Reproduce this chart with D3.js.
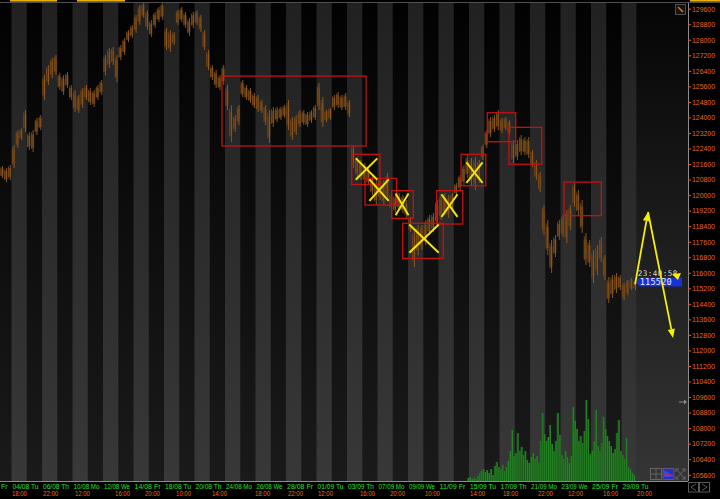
<!DOCTYPE html>
<html><head><meta charset="utf-8">
<script src="https://cdn.jsdelivr.net/npm/d3@7"></script>
<style>html,body{margin:0;padding:0;background:#000;overflow:hidden}svg{display:block}</style>
</head><body>
<script>
// ---- DATA ----
// trading-day labels (every 2nd trading day, day index 0 = 31/07 Fr, shown cut at the left edge)
const dayLabels = ["Fr","04/08 Tu","06/08 Th","10/08 Mo","12/08 We","14/08 Fr","18/08 Tu","20/08 Th","24/08 Mo","26/08 We","28/08 Fr","01/09 Tu","03/09 Th","07/09 Mo","09/09 We","11/09 Fr","15/09 Tu","17/09 Th","21/09 Mo","23/09 We","25/09 Fr","29/09 Tu"];
const timeLabels = ["18:00","22:00","12:00","16:00","20:00","10:00","14:00","18:00","22:00","12:00","16:00","20:00","10:00","14:00","18:00","22:00","12:00","16:00","20:00"];
const timeLabelDays = [2.03,4.07,6.16,8.79,10.75,12.79,15.15,17.97,20.13,22.10,24.85,26.82,29.11,32.07,34.23,36.52,38.49,40.79,43.02];
const priceTicks = d3.range(105600, 129601, 800);
const barsPerDay = 4, firstBar = 4;
const highs = [121550,121500,121390,121550,122580,123350,123450,124380,123250,123350,123970,124120,126180,126700,127060,127220,126290,126180,126340,125670,125410,125160,125520,125670,125520,125410,125670,125930,127220,127580,127630,127220,127730,128090,128500,128760,129280,129790,129890,129530,129020,129430,129690,129940,128610,128500,128400,129530,129690,129430,129120,129430,129530,129280,128500,127470,126700,126440,126180,126700,125670,124640,124120,124640,125930,125670,125520,125260,125160,124900,124640,124380,124540,124540,124540,124640,124900,124020,124120,124380,124380,124280,124380,124640,125770,125050,124380,124490,125160,125310,125160,125260,124900,122580,121960,121810,121650,121390,121030,120780,120880,120780,121140,120110,120000,120110,120000,119750,118870,118200,118460,118460,118720,118970,119080,119750,120000,120110,120000,120110,120620,121030,121550,122060,121910,121960,121810,122580,123350,124020,124120,124380,123970,124020,123870,122840,122840,123090,122990,122990,122320,121810,121190,119490,118720,117690,117940,118720,118970,119230,119490,120620,120260,119750,118050,117690,117170,117430,117840,116910,115780,115880,115990,115880,115470,115630,115730,115630];
const lows = [121030,120880,120670,120780,121390,122420,122840,123250,122320,122220,123090,123350,124900,125670,126030,126180,125410,125160,125520,124900,124280,124230,124490,124900,124640,124540,124900,125160,126180,126550,126700,125820,126960,127220,127880,128090,128350,128760,129120,128500,128140,128610,128910,129020,127470,127370,127730,128760,128910,128610,128190,128610,128760,128400,127470,126440,125930,125520,125410,125670,124380,122730,123250,123610,125050,124900,124740,124490,124280,124230,123610,122680,123510,123760,123870,123970,123350,122840,123090,123510,123610,123510,123710,123870,124380,123510,123760,123870,124380,124490,124380,124380,124020,121390,120930,120780,120620,120520,120000,119490,119750,119490,119750,119230,119080,119230,119080,118820,118100,116300,116910,117170,117430,117940,118100,118460,118720,118970,118820,119130,120000,120260,120520,120880,120520,120260,120620,121810,122420,122990,123250,123350,123200,123350,123090,121650,121810,122060,122060,121910,121450,120780,120160,117940,116910,115990,116810,117690,117840,117530,118200,119390,118970,118050,116400,116300,115470,115880,116550,115630,114440,114700,114960,115110,114600,114850,115110,115110];
const lastPrice = 115520;
const lastTime = "23:40:58";
const volPerDay = 8, firstVolBar = 255;
const volumes = [30,40,20,30,20,50,80,100,120,90,110,80,120,60,150,190,140,120,160,100,140,200,300,510,250,280,480,300,340,260,300,210,180,240,280,220,250,180,400,680,470,400,440,560,370,300,400,680,460,260,220,300,240,180,250,740,600,520,400,450,380,500,810,620,270,300,400,710,350,300,380,640,520,450,400,350,280,320,480,610,300,260,220,430,140,120,80,60];
// annotation boxes: [day0, day1, priceTop, priceBottom]
const boxes = [[15.80,25.25,126130,122530],[24.31,26.16,122100,120550],[25.18,27.26,120860,119490],[26.93,28.35,120230,118800],[27.65,30.31,118550,116740],[29.88,31.59,120230,118510],[31.48,33.10,122100,120480],[33.20,35.06,124240,122750],[34.62,36.77,123490,121590],[38.23,40.68,120670,118940]];
// X marks: [centerDay, centerPrice, halfDays, halfPrice]
const crosses = [[25.28,121340,0.66,515],[26.10,120260,0.59,515],[27.61,119520,0.39,515],[29.05,117760,0.92,695],[30.72,119460,0.49,540],[32.36,121160,0.49,490]];
// yellow arrows: [[day,price],[day,price]]
const arrows = [[[42.89,115400],[43.74,119130]],[[43.74,119130],[45.38,112640]]];
const smallTri = [[45.31,115930],[45.90,115990],[45.70,115630]];

// ---- LAYOUT ----
const W = 720, H = 499, plotR = 688, plotB = 481, plotT = 3;
const x = d3.scaleLinear().domain([0, 46]).range([-19, -19 + 15.25 * 46]);
const y = d3.scaleLinear().domain([105600, 129600]).range([474.7, 8.7]);
const yv = d3.scaleLinear().domain([0, 1000]).range([plotB, plotB - 100]);

const svg = d3.select("body").append("svg").attr("width", W).attr("height", H)
  .style("font-family", "'Liberation Sans', Arial, sans-serif");
const defs = svg.append("defs");
function grad(id, c0, c1) {
  const g = defs.append("linearGradient").attr("id", id)
    .attr("gradientUnits", "userSpaceOnUse").attr("y1", plotT).attr("y2", plotB).attr("x1", 0).attr("x2", 0);
  g.append("stop").attr("offset", 0).attr("stop-color", c0);
  g.append("stop").attr("offset", 1).attr("stop-color", c1);
}
grad("gBlack", "#020202", "#1a1a1a");
grad("gGray", "#212121", "#383838");
grad("gBeyond", "#050505", "#353535");
grad("gVol", "#2a8c2a", "#175c17");
defs.append("clipPath").attr("id", "clip").append("rect").attr("x", 0).attr("y", plotT).attr("width", plotR).attr("height", plotB - plotT);

svg.append("rect").attr("width", W).attr("height", H).attr("fill", "#000");
const plot = svg.append("g").attr("clip-path", "url(#clip)");
plot.append("rect").attr("x", 0).attr("y", plotT).attr("width", plotR).attr("height", plotB - plotT).attr("fill", "url(#gBlack)");
const lastDay = 43;
// alternating day bands
plot.append("g").selectAll("rect").data(d3.range(0, lastDay, 2)).join("rect")
  .attr("x", d => x(d)).attr("width", x(1) - x(0)).attr("y", plotT).attr("height", plotB - plotT).attr("fill", "url(#gGray)");
plot.append("rect").attr("x", x(lastDay) - 0.25).attr("y", plotT).attr("width", plotR - x(lastDay) + 1).attr("height", plotB - plotT).attr("fill", "url(#gBeyond)");

// volume
const vw = x(1 / volPerDay) - x(0);
const vg = plot.append("g");
volumes.forEach((v, i) => {
  const d = (firstVolBar + i) / volPerDay + 0.5 / volPerDay;
  const cx = x(d);
  vg.append("rect").attr("x", cx - vw / 2).attr("width", vw).attr("y", yv(v)).attr("height", yv(0) - yv(v)).attr("fill", "#1a621a");
  vg.append("rect").attr("x", cx + vw / 2 - 0.9).attr("width", 0.9).attr("y", yv(v)).attr("height", yv(0) - yv(v)).attr("fill", "#2a8a2a");
});

// price bars
const bw = x(1 / barsPerDay) - x(0);
const pg = plot.append("g");
highs.forEach((h, i) => {
  const d = (firstBar + i) / barsPerDay + 0.5 / barsPerDay;
  const cx = x(d), yt = y(h), yb = y(lows[i]), hh = yb - yt;
  pg.append("rect").attr("x", cx - bw / 2 + 0.2).attr("width", bw - 0.4).attr("y", yt + hh * 0.2).attr("height", hh * 0.6).attr("fill", "#4a2f14");
  pg.append("rect").attr("x", cx - 1.4).attr("width", 0.8).attr("y", yt + hh * 0.1).attr("height", hh * 0.75).attr("fill", "#7a4c1c");
  pg.append("rect").attr("x", cx + 0.2).attr("width", 0.9).attr("y", yt).attr("height", hh).attr("fill", "#955d20");
});

// boxes
plot.append("g").selectAll("rect").data(boxes).join("rect")
  .attr("x", b => x(b[0])).attr("y", b => y(b[2])).attr("width", b => x(b[1]) - x(b[0])).attr("height", b => y(b[3]) - y(b[2]))
  .attr("fill", "none").attr("stroke", "#c41212").attr("stroke-width", 1.3);

// crosses
const cg = plot.append("g").attr("stroke", "#f2e20c").attr("stroke-width", 2).attr("stroke-linecap", "square");
crosses.forEach(c => {
  cg.append("line").attr("x1", x(c[0] - c[2])).attr("y1", y(c[1] + c[3])).attr("x2", x(c[0] + c[2])).attr("y2", y(c[1] - c[3]));
  cg.append("line").attr("x1", x(c[0] - c[2])).attr("y1", y(c[1] - c[3])).attr("x2", x(c[0] + c[2])).attr("y2", y(c[1] + c[3]));
});

// current time + price label
plot.append("text").attr("x", x(42.93) + 2).attr("y", y(lastPrice) - 6).attr("fill", "#d8d8d8")
  .style("font-family", "'DejaVu Sans Mono', monospace").style("font-size", "7.6px").attr("letter-spacing", "0.45px").text(lastTime);
const ly = y(lastPrice);
const lx0 = x(42.93);
plot.append("path").attr("d", `M${lx0},${ly} L${lx0 + 4},${ly - 4.5} L${plotR - 6},${ly - 4.5} L${plotR - 6},${ly + 4.5} L${lx0 + 4},${ly + 4.5} Z`).attr("fill", "#1830d8");
plot.append("text").attr("x", lx0 + 4).attr("y", ly + 3.3).attr("fill", "#e8ecff")
  .style("font-family", "'DejaVu Sans Mono', monospace").style("font-size", "8.6px").attr("letter-spacing", "0.2px").text(String(lastPrice));

// arrows
const ag = plot.append("g");
arrows.forEach(a => {
  const x1 = x(a[0][0]), y1 = y(a[0][1]), x2 = x(a[1][0]), y2 = y(a[1][1]);
  const ang = Math.atan2(y2 - y1, x2 - x1), L = 9, Wd = 3.6;
  const bx = x2 - L * Math.cos(ang), by = y2 - L * Math.sin(ang);
  ag.append("line").attr("x1", x1).attr("y1", y1).attr("x2", bx).attr("y2", by).attr("stroke", "#f6f000").attr("stroke-width", 1.8);
  ag.append("path").attr("d", `M${x2},${y2} L${bx - Wd * Math.sin(ang)},${by + Wd * Math.cos(ang)} L${bx + Wd * Math.sin(ang)},${by - Wd * Math.cos(ang)} Z`).attr("fill", "#f6f000");
});
ag.append("path").attr("d", "M" + smallTri.map(p => x(p[0]) + "," + y(p[1])).join(" L") + " Z").attr("fill", "#f6f000");

// small gray arrow marker
plot.append("line").attr("x1", 679).attr("x2", 686).attr("y1", 402).attr("y2", 402).attr("stroke", "#8a8a8a").attr("stroke-width", 1);
plot.append("path").attr("d", "M687,402 L684,399.5 L684,404.5 Z").attr("fill", "#8a8a8a");

// icons bottom right
const ic = svg.append("g").attr("fill", "none").attr("stroke", "#707070").attr("stroke-width", 0.8);
ic.append("rect").attr("x", 650.5).attr("y", 468.5).attr("width", 11).attr("height", 11);
ic.append("line").attr("x1", 656).attr("x2", 656).attr("y1", 468.5).attr("y2", 479.5);
ic.append("line").attr("x1", 650.5).attr("x2", 661.5).attr("y1", 474).attr("y2", 474);
svg.append("rect").attr("x", 663).attr("y", 468.5).attr("width", 11).attr("height", 11).attr("fill", "#2a2fb8").attr("stroke", "#7070a0").attr("stroke-width", 0.6);
svg.append("path").attr("d", "M663.5,470 L669,473 L673.5,477 L663.5,477 Z").attr("fill", "#3a48e8");
svg.append("line").attr("x1", 663.5).attr("x2", 673.5).attr("y1", 475).attr("y2", 475).attr("stroke", "#e02020").attr("stroke-width", 1);
ic.append("path").attr("d", "M676,469 L685,479 M685,469 L676,479 M676,469 L679,469 M676,469 L676,472 M685,469 L682,469 M685,469 L685,472 M676,479 L679,479 M676,479 L676,476 M685,479 L682,479 M685,479 L685,476");
// scroll buttons
ic.append("rect").attr("x", 688.5).attr("y", 482.5).attr("width", 10).attr("height", 9.5);
ic.append("rect").attr("x", 699.5).attr("y", 482.5).attr("width", 10).attr("height", 9.5);
ic.append("path").attr("d", "M696,484 L691,487.2 L696,490.5 M702,484 L707,487.2 L702,490.5");
// pencil icon top right
svg.append("rect").attr("x", 675.5).attr("y", 4.5).attr("width", 10).attr("height", 10).attr("fill", "#141414").attr("stroke", "#606060").attr("stroke-width", 0.8);
svg.append("line").attr("x1", 678).attr("y1", 7).attr("x2", 683).attr("y2", 12).attr("stroke", "#d07830").attr("stroke-width", 1.6);

// top strip
svg.append("line").attr("x1", 0).attr("x2", W).attr("y1", 2.5).attr("y2", 2.5).attr("stroke", "#505050").attr("stroke-width", 1);
[[10, 57], [77, 125], [690, 720]].forEach(s => svg.append("rect").attr("x", s[0]).attr("y", 0).attr("width", s[1] - s[0]).attr("height", 1.6).attr("fill", "#e8b000"));

// right axis
const ax = svg.append("g").attr("transform", `translate(${plotR},0)`)
  .call(d3.axisRight(y).tickValues(priceTicks).tickSize(3).tickPadding(1).tickFormat(d3.format("d")));
ax.select(".domain").attr("stroke", "#8c8c8c").attr("d", `M0.5,${plotT}V${plotB}`);
ax.selectAll(".tick line").attr("stroke", "#e0641c");
ax.selectAll(".tick text").attr("fill", "#e6661c").style("font-size", "7.2px").style("font-family", "'Liberation Sans', Arial, sans-serif")
  .attr("textLength", 23).attr("lengthAdjust", "spacingAndGlyphs");

// bottom axis
svg.append("line").attr("x1", 0).attr("x2", plotR).attr("y1", plotB + 0.5).attr("y2", plotB + 0.5).attr("stroke", "#8c8c8c");
svg.append("g").selectAll("text").data(dayLabels).join("text")
  .attr("x", (d, i) => i === 0 ? 1 : x(i * 2) + 1).attr("y", 488.5).attr("fill", "#22e022").style("font-size", "7px")
  .attr("textLength", (d, i) => i === 0 ? 6.5 : 26).attr("lengthAdjust", "spacingAndGlyphs").text(d => d);
svg.append("g").selectAll("text").data(timeLabels).join("text")
  .attr("x", (d, i) => x(timeLabelDays[i])).attr("y", 495.5).attr("fill", "#f06a12").style("font-size", "7px")
  .attr("textLength", 15).attr("lengthAdjust", "spacingAndGlyphs").text(d => d);
</script>
</body></html>
